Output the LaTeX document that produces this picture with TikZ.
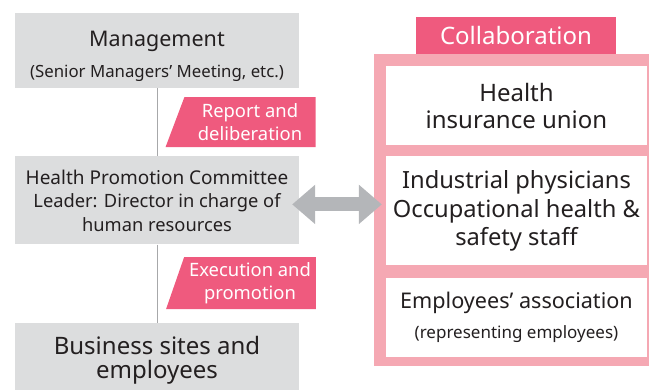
\documentclass[tikz,border=0pt]{standalone}
\usepackage{fontspec}
\setmainfont{Noto Sans}
\usetikzlibrary{positioning,shapes.geometric,arrows.meta}

\definecolor{boxgray}{HTML}{DCDDDE}
\definecolor{tagpink}{HTML}{EF5A7E}
\definecolor{framepink}{HTML}{F5A8B3}
\definecolor{textdark}{HTML}{231F20}
\definecolor{arrowgray}{HTML}{B4B6B9}
\definecolor{linegray}{HTML}{A7A8AA}

\newcommand{\fsz}[2]{\fontsize{#1}{#2}\selectfont}

\tikzset{
  gray box/.style={fill=boxgray, text=textdark, minimum width=284pt, align=center, inner sep=0pt},
  white box/.style={fill=white, text=textdark, minimum width=261pt, align=center, inner sep=0pt},
  tag/.style={trapezium, trapezium left angle=68, trapezium right angle=90, trapezium stretches=true,
    fill=tagpink, text=white, minimum width=150pt, minimum height=50pt, align=center, inner sep=0pt,
    font=\fsz{18.4}{23}},
  link/.style={draw=linegray, line width=1pt},
  biarrow/.style={draw=arrowgray, line width=14pt,
    {Triangle[length=23pt,width=38pt]}-{Triangle[length=23pt,width=38pt]}}
}

\begin{document}
\begin{tikzpicture}[x=1pt,y=-1pt]
\useasboundingbox (0,0) rectangle (649,389);

% left column
\node[gray box, minimum height=75pt] (mgmt) at (157,50.5)
  {\rule{0pt}{27pt}\fsz{21.5}{28}Management\\[12pt]\fsz{16.8}{20}(Senior Managers’ Meeting, etc.)};
\node[gray box, minimum height=88pt, font=\fsz{18.3}{23.5}] (hpc) [below=68pt of mgmt]
  {{\fontsize{19}{23.5}\selectfont Health Promotion Committee}\\Leader: Director in charge of\\human resources};
\node[gray box, minimum height=75pt, font=\fsz{24}{24.5}] (biz) [below=78pt of hpc]
  {Business sites and\\employees};

\draw[link] (mgmt) -- (hpc);
\draw[link] (hpc) -- (biz);

\node[tag] (report) at (250,122) {Report and\\deliberation};
\node[tag, minimum height=52pt] (exec) at (250,283) {Execution and\\promotion};

% right column
\node[fill=framepink, minimum width=277pt, minimum height=312pt, inner sep=0pt] (frame) at (512.5,210) {};
\node[fill=tagpink, text=white, minimum width=200pt, minimum height=37pt, inner sep=0pt,
  font=\fsz{24}{26}] (collab) at (516,35.5) {Collaboration};

\node[white box, minimum height=79pt, font=\fsz{24}{27}] (union) at (516.5,105.5)
  {Health\\insurance union};
\node[white box, minimum height=109pt, font=\fsz{23.7}{28.5}] (staff) [below=11pt of union]
  {Industrial physicians\\Occupational health \&\\safety staff};
\node[white box, minimum height=79pt] (assoc) [below=12pt of staff]
  {\fsz{21.6}{28}Employees’ association\\[11pt]\fsz{17}{20}(representing employees)};

\path (hpc.east) ++(-7pt,-4pt) coordinate (a1);
\draw[biarrow] (a1) -- ([xshift=8pt]a1 -| frame.west);
\end{tikzpicture}
\end{document}
